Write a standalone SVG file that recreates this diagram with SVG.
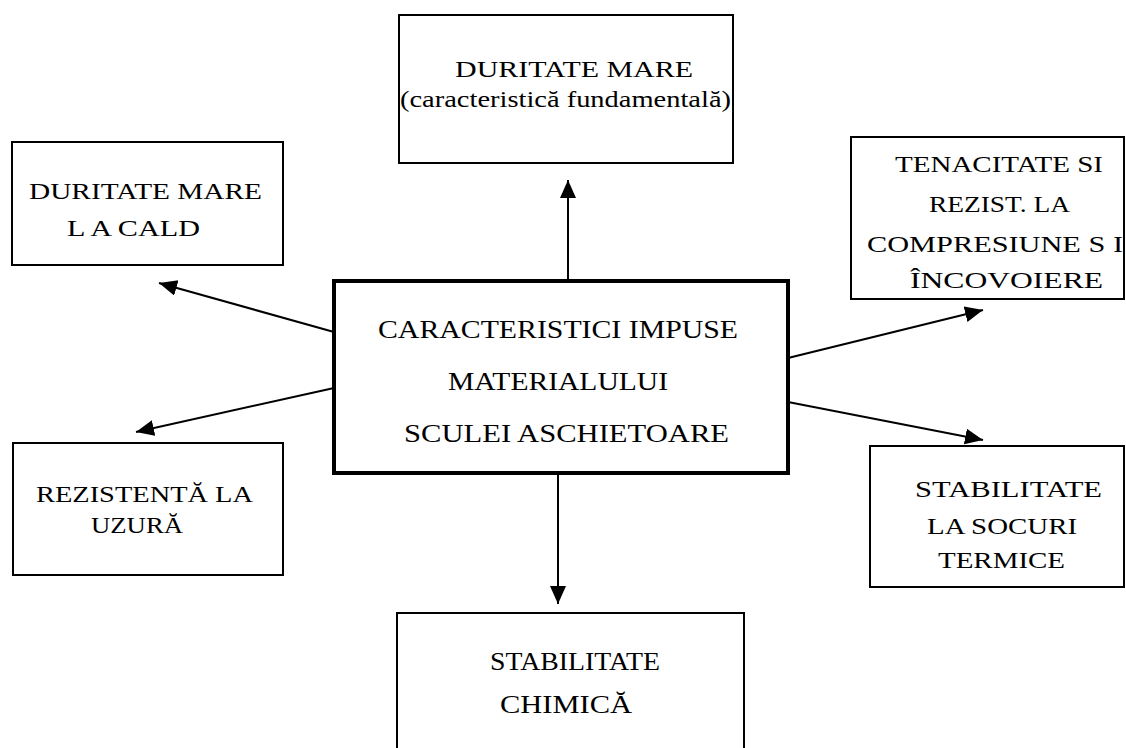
<svg xmlns="http://www.w3.org/2000/svg" width="1126" height="748" viewBox="0 0 1126 748">
<style>
.box{fill:#fff;stroke:#000;stroke-width:2}
.main{fill:#fff;stroke:#000;stroke-width:4}
.t{font-family:"Liberation Serif","Times New Roman",serif;font-size:24px;fill:#000}
.tb{font-family:"Liberation Serif","Times New Roman",serif;font-size:26px;fill:#000}
.c{stroke:#000;stroke-width:2;fill:none}
</style>
<defs>
<marker id="ah" markerUnits="userSpaceOnUse" markerWidth="20" markerHeight="18" refX="18" refY="8" orient="auto">
<path d="M0,0 L18,8 L0,16 Z" fill="#000"/>
</marker>
</defs>
<rect width="1126" height="748" fill="#fff"/>
<g id="connectors">
<line class="c" x1="568" y1="281" x2="568" y2="180" marker-end="url(#ah)"/>
<line class="c" x1="334" y1="332" x2="159" y2="283" marker-end="url(#ah)"/>
<line class="c" x1="334" y1="388" x2="136" y2="432" marker-end="url(#ah)"/>
<line class="c" x1="788" y1="358" x2="983" y2="310" marker-end="url(#ah)"/>
<line class="c" x1="788" y1="402" x2="983" y2="440" marker-end="url(#ah)"/>
<line class="c" x1="558" y1="473" x2="558" y2="604" marker-end="url(#ah)"/>
</g>
<g id="n-top">
<rect class="box" x="399" y="15" width="334" height="148"/>
<text class="t" x="455" y="77" textLength="238" lengthAdjust="spacingAndGlyphs">DURITATE MARE</text>
<text class="t" x="400" y="107" textLength="331" lengthAdjust="spacingAndGlyphs">(caracteristică fundamentală)</text>
</g>
<g id="n-left-top">
<rect class="box" x="12" y="142" width="271" height="123"/>
<text class="t" x="29" y="199" textLength="233" lengthAdjust="spacingAndGlyphs">DURITATE MARE</text>
<text class="t" x="67" y="236" textLength="133" lengthAdjust="spacingAndGlyphs">L A CALD</text>
</g>
<g id="n-right-top">
<rect class="box" x="851" y="137" width="273" height="162"/>
<text class="t" x="895" y="172" textLength="208" lengthAdjust="spacingAndGlyphs">TENACITATE SI</text>
<text class="t" x="929" y="212" textLength="141" lengthAdjust="spacingAndGlyphs">REZIST. LA</text>
<text class="t" x="867" y="252" textLength="256" lengthAdjust="spacingAndGlyphs">COMPRESIUNE S I</text>
<text class="t" x="910" y="288" textLength="193" lengthAdjust="spacingAndGlyphs">ÎNCOVOIERE</text>
</g>
<g id="n-center">
<rect class="main" x="334" y="281" width="454" height="192"/>
<text class="tb" x="378" y="338" textLength="360" lengthAdjust="spacingAndGlyphs">CARACTERISTICI IMPUSE</text>
<text class="tb" x="448" y="390" textLength="220" lengthAdjust="spacingAndGlyphs">MATERIALULUI</text>
<text class="tb" x="404" y="442" textLength="325" lengthAdjust="spacingAndGlyphs">SCULEI ASCHIETOARE</text>
</g>
<g id="n-left-bottom">
<rect class="box" x="13" y="443" width="270" height="132"/>
<text class="t" x="36" y="502" textLength="217" lengthAdjust="spacingAndGlyphs">REZISTENTĂ LA</text>
<text class="t" x="91" y="533" textLength="92" lengthAdjust="spacingAndGlyphs">UZURĂ</text>
</g>
<g id="n-right-bottom">
<rect class="box" x="870" y="446" width="254" height="141"/>
<text class="t" x="915" y="497" textLength="187" lengthAdjust="spacingAndGlyphs">STABILITATE</text>
<text class="t" x="927" y="534" textLength="150" lengthAdjust="spacingAndGlyphs">LA SOCURI</text>
<text class="t" x="938" y="568" textLength="127" lengthAdjust="spacingAndGlyphs">TERMICE</text>
</g>
<g id="n-bottom">
<rect class="box" x="397" y="613" width="347" height="150"/>
<text class="tb" x="490" y="670" textLength="170" lengthAdjust="spacingAndGlyphs">STABILITATE</text>
<text class="tb" x="500" y="713" textLength="132" lengthAdjust="spacingAndGlyphs">CHIMICĂ</text>
</g>
</svg>
